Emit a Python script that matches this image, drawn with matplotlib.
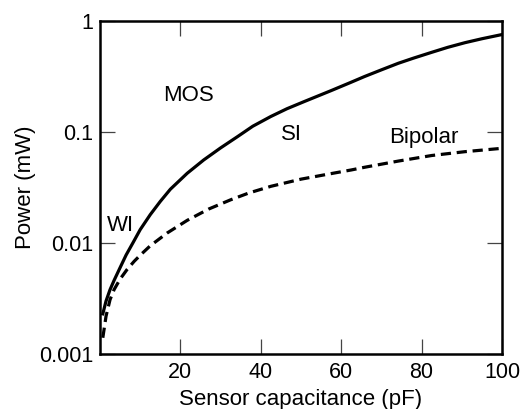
import numpy as np
import matplotlib
matplotlib.use('Agg')
import matplotlib.pyplot as plt

# values (power in mW vs sensor capacitance in pF)
mos_c = [0.7, 1.5, 2.5, 3.5, 5, 6.5, 8.3, 10, 12.5, 15, 17.5, 21.7, 25.8, 30, 34.2,
         38, 42.5, 46.5, 50.8, 57.5, 62.5, 65.8, 70, 74.2, 78, 82.5, 86.5, 90.8, 95, 100]
mos_p = [0.0023, 0.0030, 0.0038, 0.0046, 0.0060, 0.0078, 0.0102, 0.0132, 0.018, 0.0237,
         0.0305, 0.0425, 0.056, 0.0719, 0.0908, 0.1127, 0.138, 0.162, 0.188, 0.236, 0.281,
         0.316, 0.363, 0.416, 0.463, 0.522, 0.579, 0.638, 0.692, 0.755]

bip_c = [0.7, 1.5, 2.5, 3.5, 5, 6.7, 8.5, 10, 12.5, 16.7, 21.7, 27, 32.5, 37, 42.5,
         50, 57.5, 62.5, 65.8, 74.2, 82.5, 90.8, 100]
bip_p = [0.0014, 0.00219, 0.00309, 0.0038, 0.00473, 0.00575, 0.00684, 0.00776, 0.00944,
         0.0123, 0.016, 0.0202, 0.0245, 0.0282, 0.0324, 0.0376, 0.0422, 0.0455, 0.0481,
         0.0547, 0.0614, 0.0665, 0.0713]

x_ticks = [20, 40, 60, 80, 100]
y_ticks = [0.001, 0.01, 0.1, 1]
y_tick_labels = ['0.001', '0.01', '0.1', '1']

plt.rcParams['font.family'] = ['Liberation Sans', 'DejaVu Sans']
fs = 16

fig = plt.figure(figsize=(5.24, 4.09), dpi=100)
ax = fig.add_axes([100 / 524, 1 - 354 / 409, 402 / 524, 333 / 409])

ax.plot(mos_c, mos_p, color='black', lw=2.3, solid_joinstyle='round')
line, = ax.plot(bip_c, bip_p, color='black', lw=2.3, dash_capstyle='butt')
line.set_dashes((3.2, 1.8))

ax.set_yscale('log')
ax.set_xlim(0, 100)
ax.set_ylim(0.001, 1)
ax.set_xticks(x_ticks)
ax.set_yticks(y_ticks)
ax.set_yticklabels(y_tick_labels)
ax.minorticks_off()
ax.tick_params(direction='in', length=11, width=0.9, labelsize=15.5,
               top=True, right=True, pad=6, color='#444444')
ax.tick_params(axis='y', pad=5)
for sp in ax.spines.values():
    sp.set_linewidth(1.8)

ax.set_xlabel('Sensor capacitance (pF)', fontsize=fs, labelpad=4)
ax.set_ylabel('Power (mW)', fontsize=fs, labelpad=2)

ax.text(22, 0.215, 'MOS', fontsize=fs, ha='center', va='center')
ax.text(45, 0.095, 'SI', fontsize=fs, ha='left', va='center')
ax.text(5.2, 0.0145, 'WI', fontsize=fs, ha='center', va='center')
ax.text(80.5, 0.09, 'Bipolar', fontsize=fs, ha='center', va='center')

fig.savefig('out.png', dpi=100)
